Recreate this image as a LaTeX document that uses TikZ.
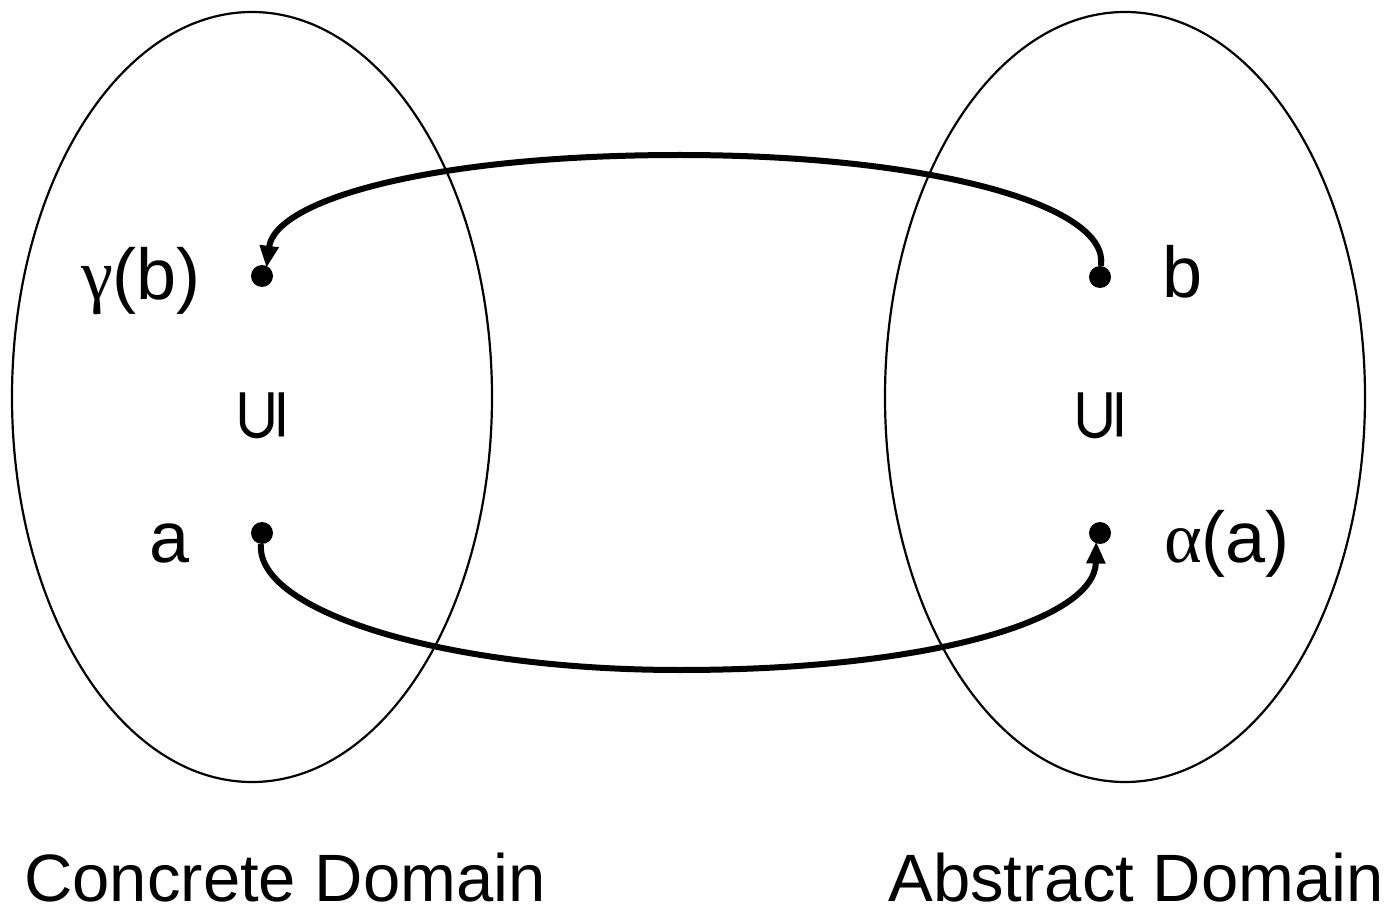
\documentclass[tikz,border=0pt]{standalone}
\usepackage{fontspec}
\setmainfont{Liberation Sans}
\newfontfamily\greekfont{Liberation Serif}
\newfontfamily\symfont{DejaVu Sans}
\usetikzlibrary{arrows.meta}
\tikzset{
  domainshape/.style={draw=black, line width=2.2pt},
  dotnode/.style={circle, fill=black, inner sep=0pt, minimum size=22pt},
  lbl/.style={anchor=base, inner sep=0pt, font=\fontsize{72}{80}\selectfont},
  domlbl/.style={anchor=base, inner sep=0pt, font=\fontsize{67}{72}\selectfont},
  ordnode/.style={inner sep=0pt},
  maparrow/.style={line width=6pt, -{Triangle[length=22pt,width=18pt]}, shorten >=-2pt}
}
\begin{document}
\begin{tikzpicture}[x=1pt,y=-1pt]
\useasboundingbox[fill=white] (0,0) rectangle (1393,917);
\draw[domainshape] (252,397) ellipse [x radius=240, y radius=385];
\draw[domainshape] (1125,397) ellipse [x radius=240, y radius=385];

\node[dotnode] (gb) at (262,276) {};
\node[dotnode] (b) at (1100,277) {};
\node[dotnode] (a) at (262,533) {};
\node[dotnode] (aa) at (1100,533) {};

\node[lbl] (gbl) at (141,300) {{\greekfont γ}(b)};
\node[lbl] (bl) at (1183,298) {b};
\node[lbl] (al) at (170,562) {a};
\node[lbl] (aal) at (1227,562) {{\greekfont α}(a)};

\node[ordnode] (o1) at (262,415) {\rotatebox{90}{\symfont\fontsize{72}{74}\selectfont ⊆}};
\node[ordnode] (o2) at (1100,415) {\rotatebox{90}{\symfont\fontsize{72}{74}\selectfont ⊆}};

\node[domlbl] (cd) at (285,901) {Concrete Domain};
\node[domlbl] (ad) at (1136,901) {Abstract Domain};

\draw[maparrow] (b.85) .. controls (1110,205) and (930,155) .. (680,155)
  .. controls (430,155) and (275,200) .. (gb.65);
\draw[maparrow] (a.265) .. controls (255,610) and (440,670) .. (680,670)
  .. controls (930,670) and (1095,620) .. (aa.250);
\end{tikzpicture}
\end{document}
